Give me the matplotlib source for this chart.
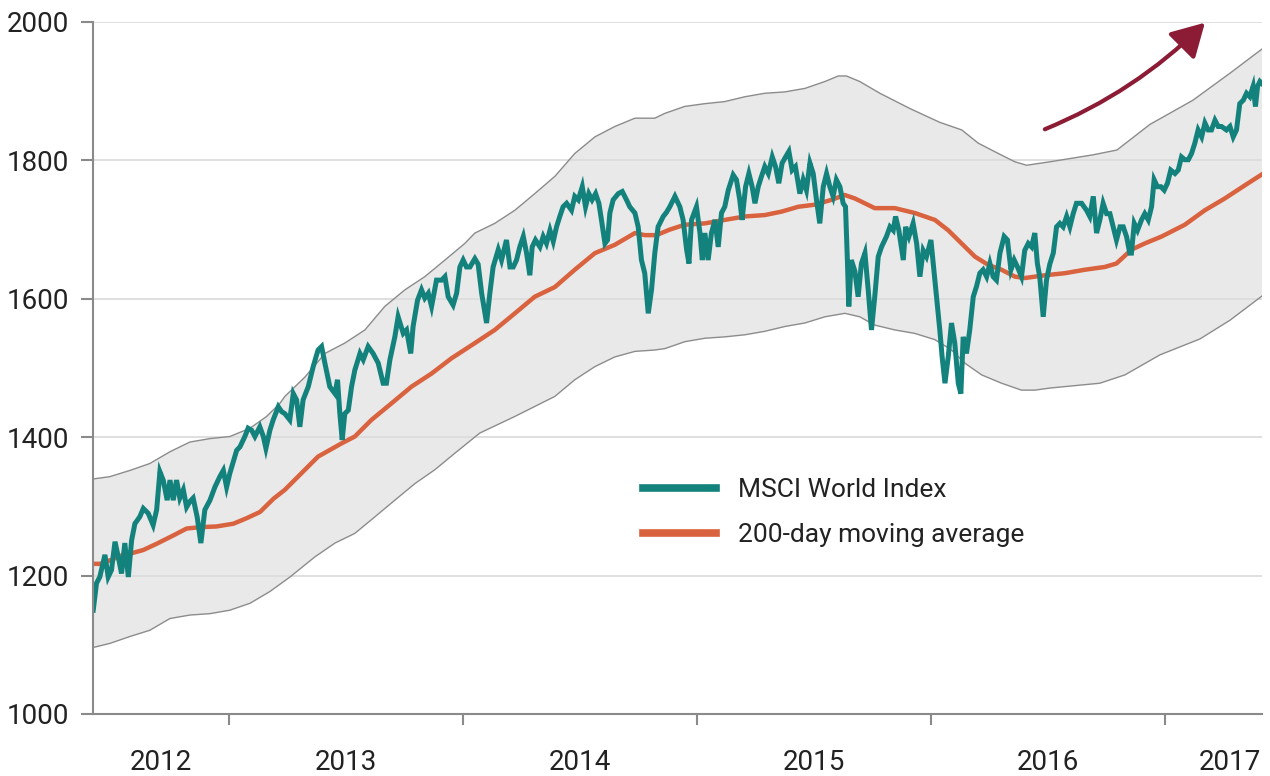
import matplotlib
matplotlib.use("Agg")
import matplotlib.pyplot as plt
from matplotlib.lines import Line2D
import numpy as np

# MSCI World Index (decimal years, index points)
index_t = [
    2012.420, 2012.434, 2012.448, 2012.470, 2012.484, 2012.498, 2012.513, 2012.527, 2012.541, 2012.555,
    2012.570, 2012.584, 2012.598, 2012.619, 2012.634, 2012.655, 2012.676, 2012.691, 2012.705, 2012.719,
    2012.736, 2012.748, 2012.762, 2012.776, 2012.790, 2012.805, 2012.819, 2012.833, 2012.847, 2012.864,
    2012.880, 2012.897, 2012.919, 2012.940, 2012.961, 2012.976, 2012.990, 2013.004, 2013.018, 2013.033,
    2013.047, 2013.068, 2013.082, 2013.097, 2013.111, 2013.132, 2013.147, 2013.158, 2013.175, 2013.189,
    2013.211, 2013.225, 2013.239, 2013.260, 2013.275, 2013.289, 2013.303, 2013.317, 2013.339, 2013.360,
    2013.381, 2013.396, 2013.410, 2013.431, 2013.453, 2013.464, 2013.474, 2013.484, 2013.495, 2013.510,
    2013.524, 2013.538, 2013.560, 2013.574, 2013.595, 2013.616, 2013.638, 2013.659, 2013.673, 2013.688,
    2013.709, 2013.723, 2013.745, 2013.759, 2013.777, 2013.787, 2013.806, 2013.823, 2013.837, 2013.852,
    2013.866, 2013.887, 2013.909, 2013.923, 2013.937, 2013.958, 2013.973, 2013.987, 2014.001, 2014.015,
    2014.030, 2014.051, 2014.065, 2014.080, 2014.101, 2014.115, 2014.129, 2014.151, 2014.165, 2014.186,
    2014.201, 2014.215, 2014.229, 2014.243, 2014.258, 2014.272, 2014.286, 2014.296, 2014.310, 2014.329,
    2014.343, 2014.357, 2014.372, 2014.386, 2014.400, 2014.414, 2014.428, 2014.443, 2014.464, 2014.478,
    2014.493, 2014.510, 2014.524, 2014.538, 2014.552, 2014.567, 2014.581, 2014.592, 2014.607, 2014.618,
    2014.628, 2014.642, 2014.664, 2014.681, 2014.699, 2014.713, 2014.735, 2014.749, 2014.763, 2014.777,
    2014.792, 2014.806, 2014.820, 2014.834, 2014.856, 2014.870, 2014.884, 2014.906, 2014.927, 2014.941,
    2014.956, 2014.966, 2014.977, 2014.998, 2015.013, 2015.023, 2015.034, 2015.048, 2015.062, 2015.077,
    2015.091, 2015.105, 2015.119, 2015.134, 2015.155, 2015.169, 2015.183, 2015.193, 2015.208, 2015.222,
    2015.236, 2015.248, 2015.262, 2015.276, 2015.290, 2015.305, 2015.322, 2015.336, 2015.350, 2015.364,
    2015.379, 2015.393, 2015.407, 2015.421, 2015.440, 2015.454, 2015.468, 2015.483, 2015.497, 2015.511,
    2015.525, 2015.540, 2015.554, 2015.568, 2015.582, 2015.596, 2015.611, 2015.625, 2015.635, 2015.643,
    2015.649, 2015.660, 2015.675, 2015.689, 2015.703, 2015.718, 2015.732, 2015.746, 2015.760, 2015.775,
    2015.789, 2015.810, 2015.825, 2015.839, 2015.849, 2015.863, 2015.882, 2015.892, 2015.906, 2015.924,
    2015.939, 2015.953, 2015.967, 2015.981, 2016.000, 2016.010, 2016.024, 2016.038, 2016.048, 2016.060,
    2016.074, 2016.088, 2016.102, 2016.117, 2016.128, 2016.138, 2016.152, 2016.166, 2016.181, 2016.195,
    2016.209, 2016.223, 2016.238, 2016.252, 2016.266, 2016.280, 2016.295, 2016.313, 2016.327, 2016.342,
    2016.356, 2016.370, 2016.387, 2016.401, 2016.416, 2016.430, 2016.444, 2016.455, 2016.465, 2016.480,
    2016.494, 2016.508, 2016.523, 2016.537, 2016.551, 2016.565, 2016.580, 2016.594, 2016.608, 2016.622,
    2016.644, 2016.665, 2016.679, 2016.694, 2016.708, 2016.722, 2016.736, 2016.751, 2016.765, 2016.779,
    2016.793, 2016.808, 2016.822, 2016.836, 2016.850, 2016.857, 2016.869, 2016.883, 2016.900, 2016.914,
    2016.929, 2016.943, 2016.954, 2016.968, 2016.983, 2016.997, 2017.011, 2017.025, 2017.043, 2017.057,
    2017.071, 2017.085, 2017.100, 2017.114, 2017.128, 2017.142, 2017.157, 2017.171, 2017.185, 2017.199,
    2017.214, 2017.228, 2017.242, 2017.263, 2017.278, 2017.292, 2017.306, 2017.320, 2017.335, 2017.349,
    2017.363, 2017.377, 2017.387, 2017.396, 2017.406, 2017.415,
]
index_v = [
    1150, 1189, 1198, 1230, 1198, 1208, 1249, 1227, 1203, 1247,
    1198, 1251, 1275, 1285, 1297, 1290, 1273, 1295, 1350, 1338,
    1309, 1338, 1309, 1338, 1312, 1324, 1299, 1307, 1312, 1285,
    1247, 1295, 1309, 1328, 1343, 1352, 1328, 1348, 1364, 1381,
    1386, 1401, 1413, 1410, 1401, 1415, 1401, 1384, 1410, 1425,
    1444, 1437, 1434, 1425, 1463, 1454, 1415, 1454, 1473, 1502,
    1526, 1531, 1507, 1473, 1463, 1483, 1434, 1396, 1434, 1439,
    1473, 1497, 1521, 1512, 1531, 1521, 1507, 1478, 1478, 1512,
    1545, 1574, 1550, 1555, 1521, 1560, 1598, 1613, 1601, 1608,
    1589, 1627, 1627, 1632, 1603, 1591, 1608, 1646, 1656, 1646,
    1646, 1658, 1650, 1608, 1565, 1608, 1646, 1671, 1656, 1685,
    1646, 1646, 1656, 1675, 1690, 1666, 1634, 1675, 1685, 1675,
    1690, 1680, 1699, 1683, 1704, 1719, 1733, 1738, 1728, 1748,
    1743, 1762, 1733, 1752, 1743, 1752, 1738, 1714, 1680, 1685,
    1724, 1743, 1752, 1755, 1743, 1733, 1724, 1704, 1656, 1637,
    1579, 1613, 1666, 1704, 1719, 1725, 1733, 1748, 1733, 1714,
    1671, 1651, 1714, 1733, 1695, 1656, 1695, 1656, 1695, 1714,
    1675, 1724, 1733, 1757, 1779, 1772, 1743, 1714, 1762, 1781,
    1762, 1738, 1762, 1777, 1791, 1781, 1805, 1791, 1767, 1796,
    1805, 1813, 1786, 1791, 1752, 1772, 1757, 1796, 1781, 1743,
    1709, 1762, 1781, 1762, 1748, 1772, 1762, 1738, 1733, 1656,
    1589, 1656, 1640, 1603, 1651, 1666, 1613, 1555, 1603, 1661,
    1675, 1690, 1704, 1699, 1719, 1699, 1656, 1704, 1690, 1709,
    1680, 1632, 1670, 1661, 1685, 1651, 1603, 1555, 1516, 1478,
    1516, 1565, 1536, 1478, 1463, 1545, 1521, 1555, 1603, 1618,
    1637, 1642, 1632, 1651, 1632, 1627, 1666, 1690, 1685, 1642,
    1656, 1646, 1632, 1670, 1680, 1675, 1695, 1651, 1632, 1574,
    1627, 1650, 1666, 1704, 1709, 1704, 1719, 1704, 1723, 1738,
    1738, 1728, 1719, 1748, 1695, 1714, 1738, 1723, 1723, 1704,
    1685, 1704, 1704, 1690, 1666, 1666, 1709, 1699, 1714, 1723,
    1714, 1733, 1772, 1762, 1762, 1757, 1767, 1786, 1781, 1786,
    1805, 1801, 1801, 1810, 1825, 1844, 1834, 1854, 1844, 1844,
    1858, 1849, 1849, 1844, 1849, 1834, 1844, 1882, 1887, 1897,
    1892, 1907, 1878, 1907, 1914, 1911,
]

# 200-day moving average
ma_t = [
    2012.406, 2012.449, 2012.491, 2012.548, 2012.591, 2012.634, 2012.691, 2012.762, 2012.819, 2012.876,
    2012.947, 2013.019, 2013.076, 2013.133, 2013.190, 2013.239, 2013.310, 2013.381, 2013.481, 2013.538,
    2013.609, 2013.695, 2013.780, 2013.866, 2013.951, 2014.051, 2014.136, 2014.222, 2014.307, 2014.393,
    2014.478, 2014.564, 2014.649, 2014.735, 2014.777, 2014.827, 2014.884, 2014.948, 2015.034, 2015.119,
    2015.205, 2015.290, 2015.362, 2015.433, 2015.504, 2015.575, 2015.632, 2015.675, 2015.760, 2015.846,
    2015.931, 2016.017, 2016.074, 2016.131, 2016.188, 2016.245, 2016.302, 2016.359, 2016.402, 2016.444,
    2016.487, 2016.573, 2016.658, 2016.743, 2016.793, 2016.857, 2016.914, 2016.986, 2017.085, 2017.171,
    2017.256, 2017.342, 2017.420,
]
ma_v = [
    1217, 1217, 1222, 1230, 1233, 1237, 1246, 1258, 1268, 1270,
    1271, 1275, 1283, 1292, 1311, 1324, 1348, 1372, 1391, 1401,
    1425, 1449, 1473, 1492, 1514, 1536, 1555, 1579, 1603, 1617,
    1642, 1666, 1678, 1695, 1692, 1692, 1700, 1707, 1709, 1714,
    1719, 1721, 1726, 1733, 1736, 1743, 1750, 1745, 1731, 1731,
    1724, 1714, 1699, 1680, 1661, 1649, 1642, 1632, 1630, 1632,
    1634, 1637, 1642, 1646, 1651, 1671, 1680, 1690, 1707, 1728,
    1745, 1764, 1781,
]

# upper and lower edge of the shaded band
upper_t = [
    2012.406, 2012.491, 2012.577, 2012.662, 2012.748, 2012.833, 2012.919, 2013.004, 2013.090, 2013.161,
    2013.218, 2013.239, 2013.325, 2013.410, 2013.495, 2013.581, 2013.666, 2013.752, 2013.837, 2013.923,
    2014.008, 2014.051, 2014.136, 2014.222, 2014.307, 2014.393, 2014.478, 2014.564, 2014.649, 2014.735,
    2014.820, 2014.863, 2014.948, 2015.034, 2015.119, 2015.205, 2015.290, 2015.376, 2015.461, 2015.547,
    2015.604, 2015.639, 2015.696, 2015.782, 2015.910, 2016.038, 2016.132, 2016.202, 2016.288, 2016.359,
    2016.409, 2016.509, 2016.692, 2016.795, 2016.936, 2017.120, 2017.286, 2017.415,
]
upper_v = [
    1339, 1343, 1352, 1362, 1379, 1393, 1398, 1401, 1413, 1430,
    1449, 1459, 1487, 1521, 1536, 1555, 1589, 1613, 1632, 1656,
    1680, 1695, 1709, 1728, 1752, 1777, 1810, 1834, 1849, 1861,
    1861, 1868, 1878, 1882, 1885, 1892, 1897, 1899, 1904, 1914,
    1922, 1922, 1914, 1897, 1875, 1855, 1844, 1825, 1810, 1798,
    1793, 1798, 1808, 1815, 1852, 1887, 1928, 1961,
]
lower_t = [
    2012.406, 2012.491, 2012.577, 2012.662, 2012.748, 2012.833, 2012.919, 2013.004, 2013.090, 2013.175,
    2013.261, 2013.367, 2013.453, 2013.538, 2013.624, 2013.709, 2013.795, 2013.880, 2013.966, 2014.072,
    2014.222, 2014.393, 2014.478, 2014.564, 2014.649, 2014.735, 2014.820, 2014.863, 2014.948, 2015.034,
    2015.119, 2015.205, 2015.290, 2015.376, 2015.461, 2015.547, 2015.632, 2015.696, 2015.760, 2015.846,
    2015.931, 2016.017, 2016.088, 2016.145, 2016.217, 2016.302, 2016.387, 2016.444, 2016.508, 2016.722,
    2016.829, 2016.979, 2017.150, 2017.278, 2017.415,
]
lower_v = [
    1095, 1102, 1112, 1121, 1138, 1143, 1145, 1150, 1160, 1177,
    1198, 1227, 1247, 1261, 1285, 1309, 1333, 1353, 1377, 1406,
    1430, 1459, 1483, 1502, 1516, 1524, 1526, 1528, 1538, 1543,
    1545, 1548, 1553, 1560, 1565, 1574, 1579, 1574, 1562, 1555,
    1550, 1541, 1526, 1507, 1490, 1478, 1468, 1468, 1471, 1478,
    1490, 1519, 1542, 1569, 1604,
]

year_ticks = [2013, 2014, 2015, 2016, 2017]
year_label_pos = [2012.71, 2013.5, 2014.5, 2015.5, 2016.5, 2017.28]
year_labels = ["2012", "2013", "2014", "2015", "2016", "2017"]
y_ticks = [1000, 1200, 1400, 1600, 1800, 2000]

TEAL = "#13827d"
ORANGE = "#d9623f"
ARROW = "#8c1c35"
TXT = "#222222"
AXIS = "#8a8a8a"


def main():
    plt.rcParams["font.family"] = ["Roboto", "DejaVu Sans"]

    fig = plt.figure(figsize=(12.7, 7.76), dpi=100)
    ax = fig.add_axes([93 / 1270, 1 - 714 / 776, (1262 - 93) / 1270, (714 - 22) / 776])

    # shaded band
    band_x = np.r_[upper_t, lower_t[::-1]]
    band_y = np.r_[upper_v, lower_v[::-1]]
    ax.fill(band_x, band_y, color="#e9e9e9", lw=0, zorder=1)
    ax.plot(upper_t, upper_v, color="#8c8c8c", lw=1.0, zorder=2)
    ax.plot(lower_t, lower_v, color="#8c8c8c", lw=1.0, zorder=2)

    ax.plot(ma_t, ma_v, color=ORANGE, lw=3.2, solid_capstyle="butt", zorder=3)
    ax.plot(index_t, index_v, color=TEAL, lw=3.6, solid_joinstyle="miter", zorder=4)

    ax.set_xlim(2012.419, 2017.415)
    ax.set_ylim(1000, 2000)

    ax.set_yticks(y_ticks)
    ax.set_yticklabels([str(v) for v in y_ticks])
    ax.yaxis.grid(True, color="#dcdcdc", lw=1.3)
    for line in ax.get_ygridlines():
        line.set_zorder(1.5)

    ax.set_xticks(year_ticks)
    ax.set_xticklabels([])
    ax.set_xticks(year_label_pos, minor=True)
    ax.set_xticklabels(year_labels, minor=True)

    ax.tick_params(axis="y", length=9, width=1.5, color=AXIS, pad=8, labelsize=20, labelcolor=TXT)
    ax.tick_params(axis="x", which="major", length=8, width=1.5, color=AXIS)
    ax.tick_params(axis="x", which="minor", length=0, pad=25, labelsize=20, labelcolor=TXT)

    for s in ["top", "right"]:
        ax.spines[s].set_visible(False)
    for s in ["left", "bottom"]:
        ax.spines[s].set_color(AXIS)
        ax.spines[s].set_linewidth(1.5)
        ax.spines[s].set_zorder(5)

    # curved arrow in the top right
    ax.annotate("", xy=(2017.171, 1999), xytext=(2016.487, 1845),
                arrowprops=dict(arrowstyle="-|>,head_length=0.67,head_width=0.38",
                                color=ARROW, lw=3.0, mutation_scale=30,
                                connectionstyle="arc3,rad=0.1", shrinkA=0, shrinkB=0),
                annotation_clip=False, zorder=6)

    handles = [Line2D([], [], color=TEAL, lw=5.5), Line2D([], [], color=ORANGE, lw=5.5)]
    ax.legend(handles, ["MSCI World Index", "200-day moving average"],
              loc="upper left", bbox_to_anchor=(643 / 1270, 1 - 478 / 776),
              bbox_transform=fig.transFigure, frameon=False, fontsize=19,
              borderpad=0, borderaxespad=0, handlelength=2.75, handletextpad=0.85,
              labelspacing=0.8, labelcolor=TXT)

    fig.savefig("out.png", dpi=100)


if __name__ == "__main__":
    main()
